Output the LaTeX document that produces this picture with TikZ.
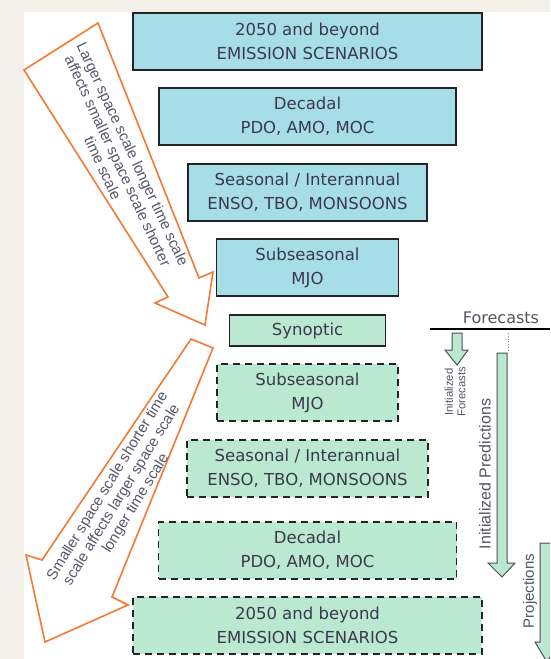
\documentclass[tikz,border=0pt]{standalone}
\usepackage{fontspec}
\setmainfont{DejaVu Sans}
\newfontfamily\labelfont{Liberation Sans}
\usetikzlibrary{positioning}
\definecolor{paper}{RGB}{243,240,234}
\definecolor{skyfill}{RGB}{166,221,230}
\definecolor{mintfill}{RGB}{186,232,208}
\definecolor{boxline}{RGB}{35,35,42}
\definecolor{boxtext}{RGB}{58,58,78}
\definecolor{scalearrow}{RGB}{244,121,52}
\definecolor{labeltext}{RGB}{85,85,95}
\begin{document}
\begin{tikzpicture}[x=1pt,y=-1pt,
    scalebox/.style={draw=boxline,line width=1.8pt,text=boxtext,align=center,inner sep=0pt,outer sep=0pt,minimum height=57pt,font=\fontsize{16.5}{24}\selectfont},
    skybox/.style={scalebox,fill=skyfill},
    mintbox/.style={scalebox,fill=mintfill,dash pattern=on 7pt off 5pt},
    scalenote/.style={text=boxtext!85,align=center,font=\labelfont\fontsize{15}{16.5}\selectfont},
    blockarrow/.style={draw=boxline!80,fill=mintfill,line width=1pt},
    sidelabel/.style={text=labeltext,align=center,rotate=90}]
    \useasboundingbox (0,0) rectangle (550,659);
    \clip (0,0) rectangle (550,659);
    \fill[paper] (0,0) rectangle (550,659);
    \fill[white] (24,12) rectangle (550,659);
    % larger scales down to synoptic
    \node[skybox,minimum width=349pt] (sky1) at (307.5,41.5) {2050 and beyond\\EMISSION SCENARIOS};
    \node[skybox,minimum width=297pt,below=18pt of sky1] (sky2) {Decadal\\PDO, AMO, MOC};
    \node[skybox,minimum width=239pt,below=19pt of sky2] (sky3) {Seasonal / Interannual\\ENSO, TBO, MONSOONS};
    \node[skybox,minimum width=182pt,below=18pt of sky3] (sky4) {Subseasonal\\MJO};
    \node[scalebox,fill=mintfill,minimum width=156pt,minimum height=31pt,below=19pt of sky4] (syn) {Synoptic};
    % synoptic back up to larger scales
    \node[mintbox,minimum width=181pt,below=18pt of syn] (mint1) {Subseasonal\\MJO};
    \node[mintbox,minimum width=241pt,below=19pt of mint1] (mint2) {Seasonal / Interannual\\ENSO, TBO, MONSOONS};
    \node[mintbox,minimum width=298pt,below=25pt of mint2] (mint3) {Decadal\\PDO, AMO, MOC};
    \node[mintbox,minimum width=349pt,below=18pt of mint3] (mint4) {2050 and beyond\\EMISSION SCENARIOS};
    % the two orange arrows
    \draw[scalearrow,fill=white,line width=1.6pt,line join=miter]
        (98,23) -- (24,70) -- (168,297) -- (155,303) -- (205,325) -- (213,272) -- (199,278) -- cycle;
    \node[scalenote,rotate=-65] (down) at (118,161) {Larger space scale longer time scale\\affects smaller space scale shorter\\time scale};
    \draw[scalearrow,fill=white,line width=1.6pt,line join=miter]
        (191,339) -- (213,348) -- (112,597) -- (128,605) -- (45,642) -- (26,555) -- (42,560) -- cycle;
    \node[scalenote,rotate=58.5] (up) at (122,495) {Smaller space scale shorter time\\scale affects larger space scale\\longer time scale};
    % forecasts column
    \node[text=labeltext,font=\fontsize{16}{18}\selectfont] (fc) at (501,318) {Forecasts};
    \coordinate (rulel) at (430,329);
    \coordinate (ruler) at (550,329);
    \draw[line width=1.2pt] (rulel) -- (ruler);
    \coordinate (dotst) at (508,333);
    \coordinate (doten) at (508,352);
    \draw[gray,dotted,line width=0.8pt] (dotst) -- (doten);
    \draw[blockarrow] (452,333) -- (462,333) -- (462,350) -- (468,350) -- (457,365) -- (445,350) -- (452,350) -- cycle;
    \node[sidelabel,font=\labelfont\fontsize{11.3}{12.5}\selectfont] (ifc) at (455,392) {Initialized\\Forecasts};
    \draw[blockarrow] (497,353) -- (507,353) -- (507,563) -- (515,563) -- (502,577) -- (488,563) -- (497,563) -- cycle;
    \node[sidelabel,font=\labelfont\fontsize{16}{18}\selectfont] (ipr) at (485,474) {Initialized Predictions};
    \draw[blockarrow] (540,543) -- (554,543) -- (554,642) -- (559,642) -- (547,662) -- (535,642) -- (540,642) -- cycle;
    \node[sidelabel,font=\labelfont\fontsize{15}{17}\selectfont] (prj) at (530,591) {Projections};
\end{tikzpicture}
\end{document}
